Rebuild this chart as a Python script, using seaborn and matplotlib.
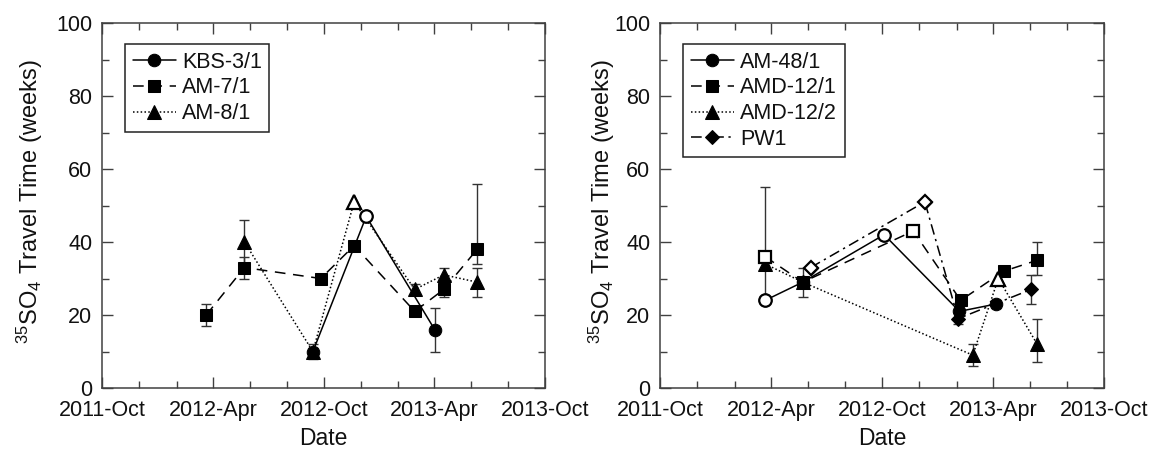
import numpy as np
import pandas as pd
import matplotlib
matplotlib.use("Agg")
import matplotlib.pyplot as plt
import matplotlib.dates as mdates
import seaborn as sns

# ---------------- data ----------------
# Left panel
kbs_dates = ["2012-09-13", "2012-12-10", "2013-04-02"]
kbs_vals = [10, 47, 16]
kbs_err_lo = [2, 0, 6]
kbs_err_hi = [2, 0, 6]
kbs_open = [False, True, False]

am7_dates = ["2012-03-21", "2012-05-23", "2012-09-26", "2012-11-20", "2013-02-28", "2013-04-17", "2013-06-11"]
am7_vals = [20, 33, 30, 39, 21, 27, 38]
am7_err_lo = [3, 3, 1, 0, 1, 2, 4]
am7_err_hi = [3, 3, 1, 0, 1, 2, 18]
am7_open = [False] * 7

am8_dates = ["2012-05-23", "2012-09-13", "2012-11-20", "2013-02-28", "2013-04-17", "2013-06-11"]
am8_vals = [40, 10, 51, 27, 31, 29]
am8_err_lo = [6, 1, 0, 1.5, 2, 4]
am8_err_hi = [6, 1, 0, 1.5, 2, 4]
am8_open = [False, False, True, False, False, False]

# Right panel
am48_dates = ["2012-03-22", "2012-05-23", "2012-10-04", "2013-02-05", "2013-04-06"]
am48_vals = [24, 29, 42, 21, 23]
am48_err_lo = [0, 0, 0, 1, 1]
am48_err_hi = [0, 0, 0, 1, 1]
am48_open = [True, False, True, False, False]

amd1_dates = ["2012-03-22", "2012-05-23", "2012-11-21", "2013-02-07", "2013-04-19", "2013-06-13"]
amd1_vals = [36, 29, 43, 24, 32, 35]
amd1_err_lo = [12, 4, 0, 1, 1, 4]
amd1_err_hi = [19, 4, 0, 1, 1, 5]
amd1_open = [True, False, True, False, False, False]

amd2_dates = ["2012-03-22", "2012-05-23", "2013-02-27", "2013-04-10", "2013-06-13"]
amd2_vals = [34, 29, 9, 30, 12]
amd2_err_lo = [0, 0, 3, 0, 5]
amd2_err_hi = [0, 0, 3, 0, 7]
amd2_open = [False, False, False, True, False]

pw1_dates = ["2012-06-05", "2012-12-10", "2013-02-03", "2013-06-03"]
pw1_vals = [33, 51, 19, 27]
pw1_err_lo = [0, 0, 1.5, 4]
pw1_err_hi = [0, 0, 1.5, 4]
pw1_open = [True, True, False, False]

x_ticks = ["2011-10-01", "2012-04-01", "2012-10-01", "2013-04-01", "2013-10-01"]
y_ticks = [0, 20, 40, 60, 80, 100]

# ---------------- style ----------------
sns.set_theme(style="white")
plt.rcParams["font.family"] = ["Liberation Sans", "DejaVu Sans"]
plt.rcParams["mathtext.fontset"] = "custom"
plt.rcParams["mathtext.rm"] = "Liberation Sans"
plt.rcParams["mathtext.it"] = "Liberation Sans:italic"
plt.rcParams["mathtext.bf"] = "Liberation Sans:bold"

spine_col = "#404040"
ink = "black"

fig = plt.figure(figsize=(11.57, 4.53), dpi=100)
axL = fig.add_axes([102 / 1157, 1 - 388 / 453, 443 / 1157, 365 / 453])
axR = fig.add_axes([660 / 1157, 1 - 388 / 453, 444 / 1157, 365 / 453])

dotted = (0, (1, 1.5))
dashed = (0, (7, 5))
dashdot = (0, (7, 3, 1.5, 3))


def series(ax, dates, vals, lo, hi, opens, marker, ls, label, ms):
    df = pd.DataFrame({"date": pd.to_datetime(dates), "val": vals})
    sns.lineplot(data=df, x="date", y="val", ax=ax, color=ink, linestyle=ls,
                 linewidth=1.1, marker=marker, markersize=ms,
                 markeredgecolor=ink, markerfacecolor=ink, label=label,
                 sort=False, estimator=None, zorder=3)
    mask = (np.array(lo) > 0) | (np.array(hi) > 0)
    if mask.any():
        ax.errorbar(df["date"][mask], np.array(vals)[mask],
                    yerr=[np.array(lo)[mask], np.array(hi)[mask]],
                    fmt="none", ecolor="#333333", elinewidth=1.0,
                    capsize=3.5, capthick=1.0, zorder=2)
    om = np.array(opens)
    if om.any():
        ax.plot(df["date"][om], np.array(vals)[om], linestyle="none",
                marker=marker, markersize=ms, markerfacecolor="white",
                markeredgecolor=ink, markeredgewidth=1.6, zorder=4)


series(axL, kbs_dates, kbs_vals, kbs_err_lo, kbs_err_hi, kbs_open, "o", "-", "KBS-3/1", 9)
series(axL, am7_dates, am7_vals, am7_err_lo, am7_err_hi, am7_open, "s", dashed, "AM-7/1", 9)
series(axL, am8_dates, am8_vals, am8_err_lo, am8_err_hi, am8_open, "^", dotted, "AM-8/1", 10)

series(axR, am48_dates, am48_vals, am48_err_lo, am48_err_hi, am48_open, "o", "-", "AM-48/1", 9)
series(axR, amd1_dates, amd1_vals, amd1_err_lo, amd1_err_hi, amd1_open, "s", dashed, "AMD-12/1", 9)
series(axR, amd2_dates, amd2_vals, amd2_err_lo, amd2_err_hi, amd2_open, "^", dotted, "AMD-12/2", 10)
series(axR, pw1_dates, pw1_vals, pw1_err_lo, pw1_err_hi, pw1_open, "D", dashdot, "PW1", 7.5)

ylab = r"$^{35}$SO$_{4}$ Travel Time (weeks)"
for ax, ylx in ((axL, -0.128), (axR, -0.097)):
    ax.set_xlim(pd.Timestamp(x_ticks[0]), pd.Timestamp(x_ticks[-1]))
    ax.set_ylim(0, 100)
    ax.set_xticks(pd.to_datetime(x_ticks))
    ax.xaxis.set_major_formatter(mdates.DateFormatter("%Y-%b"))
    ax.xaxis.set_minor_locator(mdates.MonthLocator(bymonth=[2, 6, 8, 12]))
    ax.set_yticks(y_ticks)
    ax.set_yticks([10, 30, 50, 70, 90], minor=True)
    ax.tick_params(which="both", direction="in", top=True, right=True,
                   bottom=True, left=True, colors=spine_col,
                   labelcolor="#111111", labelsize=15.5, width=1.0)
    ax.tick_params(which="major", length=8)
    ax.tick_params(axis="x", which="major", pad=8.5)
    ax.tick_params(axis="y", which="major", pad=7)
    ax.tick_params(which="minor", length=5)
    for sp in ax.spines.values():
        sp.set_color(spine_col)
        sp.set_linewidth(1.1)
    ax.set_xlabel("Date", fontsize=16.5, color="#111111", labelpad=4.5)
    ax.set_ylabel(ylab, fontsize=17, color="#111111")
    ax.yaxis.set_label_coords(ylx, 0.51)
    leg = ax.legend(loc="upper left", bbox_to_anchor=(0.052, 0.942),
                    borderaxespad=0, fontsize=15.5, frameon=True,
                    fancybox=False, edgecolor="#222222", framealpha=1,
                    handlelength=2.0, handletextpad=0.3, labelspacing=0.22,
                    borderpad=0.35)
    leg.get_frame().set_linewidth(1.1)
    for t in leg.get_texts():
        t.set_color("#111111")

fig.savefig("out.png", dpi=100)
